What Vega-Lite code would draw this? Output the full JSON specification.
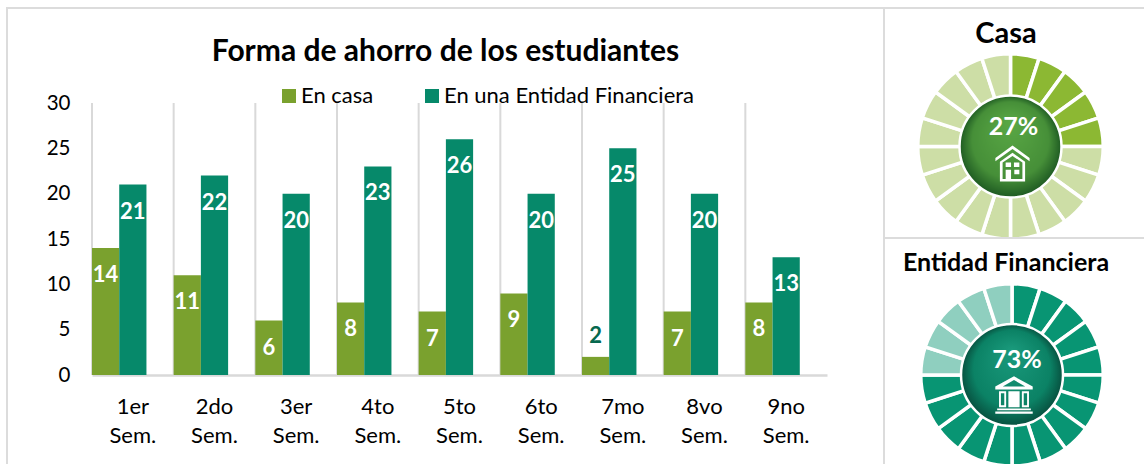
{"$schema":"https://vega.github.io/schema/vega-lite/v6.json","padding":{"left":6,"top":7,"right":0,"bottom":0},"background":"white","spacing":0,"bounds":"flush","resolve":{"scale":{"color":"independent"},"legend":{"color":"independent"}},"config":{"concat":{"spacing":0},"font":"Lato","view":{"stroke":"#dcdcdc","strokeWidth":2}},"datasets":{"ahorro":[{"sem":"1er Sem.","serie":"En casa","v":14},{"sem":"2do Sem.","serie":"En casa","v":11},{"sem":"3er Sem.","serie":"En casa","v":6},{"sem":"4to Sem.","serie":"En casa","v":8},{"sem":"5to Sem.","serie":"En casa","v":7},{"sem":"6to Sem.","serie":"En casa","v":9},{"sem":"7mo Sem.","serie":"En casa","v":2},{"sem":"8vo Sem.","serie":"En casa","v":7},{"sem":"9no Sem.","serie":"En casa","v":8},{"sem":"1er Sem.","serie":"En una Entidad Financiera","v":21},{"sem":"2do Sem.","serie":"En una Entidad Financiera","v":22},{"sem":"3er Sem.","serie":"En una Entidad Financiera","v":20},{"sem":"4to Sem.","serie":"En una Entidad Financiera","v":23},{"sem":"5to Sem.","serie":"En una Entidad Financiera","v":26},{"sem":"6to Sem.","serie":"En una Entidad Financiera","v":20},{"sem":"7mo Sem.","serie":"En una Entidad Financiera","v":25},{"sem":"8vo Sem.","serie":"En una Entidad Financiera","v":20},{"sem":"9no Sem.","serie":"En una Entidad Financiera","v":13}],"casa":[{"seg":1,"parte":"Ahorro","v":1},{"seg":2,"parte":"Ahorro","v":1},{"seg":3,"parte":"Ahorro","v":1},{"seg":4,"parte":"Ahorro","v":1},{"seg":5,"parte":"Ahorro","v":1},{"seg":6,"parte":"Resto","v":1},{"seg":7,"parte":"Resto","v":1},{"seg":8,"parte":"Resto","v":1},{"seg":9,"parte":"Resto","v":1},{"seg":10,"parte":"Resto","v":1},{"seg":11,"parte":"Resto","v":1},{"seg":12,"parte":"Resto","v":1},{"seg":13,"parte":"Resto","v":1},{"seg":14,"parte":"Resto","v":1},{"seg":15,"parte":"Resto","v":1},{"seg":16,"parte":"Resto","v":1},{"seg":17,"parte":"Resto","v":1},{"seg":18,"parte":"Resto","v":1},{"seg":19,"parte":"Resto","v":1},{"seg":20,"parte":"Resto","v":1}],"entidad":[{"seg":1,"parte":"Ahorro","v":1},{"seg":2,"parte":"Ahorro","v":1},{"seg":3,"parte":"Ahorro","v":1},{"seg":4,"parte":"Ahorro","v":1},{"seg":5,"parte":"Ahorro","v":1},{"seg":6,"parte":"Ahorro","v":1},{"seg":7,"parte":"Ahorro","v":1},{"seg":8,"parte":"Ahorro","v":1},{"seg":9,"parte":"Ahorro","v":1},{"seg":10,"parte":"Ahorro","v":1},{"seg":11,"parte":"Ahorro","v":1},{"seg":12,"parte":"Ahorro","v":1},{"seg":13,"parte":"Ahorro","v":1},{"seg":14,"parte":"Ahorro","v":1},{"seg":15,"parte":"Ahorro","v":1},{"seg":16,"parte":"Resto","v":1},{"seg":17,"parte":"Resto","v":1},{"seg":18,"parte":"Resto","v":1},{"seg":19,"parte":"Resto","v":1},{"seg":20,"parte":"Resto","v":1}],"pctCasa":[{"pct":"27%"}],"pctEntidad":[{"pct":"73%"}]},"hconcat":[{"width":877,"height":458,"title":{"text":"Forma de ahorro de los estudiantes","fontSize":30,"fontWeight":"bold","font":"Lato","color":"#000000","anchor":"middle","offset":-59},"data":{"name":"ahorro"},"layer":[{"transform":[{"filter":"datum.serie === 'En casa'"}],"mark":{"type":"rule","color":"#d9d9d9","strokeWidth":2},"encoding":{"x":{"field":"sem","type":"nominal","bandPosition":0},"y":{"datum":0,"type":"quantitative"},"y2":{"datum":30}}},{"mark":{"type":"bar"},"encoding":{"x":{"field":"sem","type":"nominal","sort":null,"scale":{"range":[85,820],"paddingInner":0,"paddingOuter":0},"title":null,"axis":{"orient":"bottom","offset":-91,"labelAngle":0,"labelAlign":"center","labelExpr":"split(datum.label,' ')","labelFontSize":22,"labelColor":"#000000","labelLineHeight":29,"labelPadding":21,"labelBaseline":"top","ticks":false,"grid":false,"domain":true,"domainColor":"#d9d9d9","domainWidth":2.5,"labelFont":"Lato"}},"xOffset":{"field":"serie","type":"nominal","scale":{"domain":["En casa","En una Entidad Financiera","_"],"range":[0,81.67],"paddingInner":0,"paddingOuter":0}},"y":{"field":"v","type":"quantitative","stack":null,"scale":{"domain":[0,30],"range":[367,95]},"title":null,"axis":{"offset":-85,"values":[0,5,10,15,20,25,30],"ticks":false,"domain":false,"grid":false,"labelFontSize":20.5,"labelColor":"#000000","labelPadding":22,"labelFont":"Lato"}},"color":{"field":"serie","type":"nominal","scale":{"domain":["En casa","En una Entidad Financiera"],"range":["#7aa12e","#06896a"]},"legend":{"orient":"none","legendX":271,"legendY":77,"direction":"horizontal","title":null,"symbolType":"square","symbolSize":196,"symbolStrokeWidth":0,"labelFontSize":22,"labelColor":"#000000","labelFont":"Lato","labelLimit":400,"columnPadding":47,"labelOffset":1}}}},{"transform":[{"filter":"datum.v >= 3"}],"mark":{"type":"text","color":"#ffffff","fontWeight":"bold","fontSize":22,"dy":27,"font":"Lato"},"encoding":{"x":{"field":"sem","type":"nominal","sort":null},"xOffset":{"field":"serie","type":"nominal"},"y":{"field":"v","type":"quantitative","stack":null},"text":{"field":"v","type":"quantitative"}}},{"transform":[{"filter":"datum.v < 3"}],"mark":{"type":"text","color":"#06694f","fontWeight":"bold","fontSize":22,"dy":-21,"font":"Lato"},"encoding":{"x":{"field":"sem","type":"nominal","sort":null},"xOffset":{"field":"serie","type":"nominal"},"y":{"field":"v","type":"quantitative","stack":null},"text":{"field":"v","type":"quantitative"}}}]},{"spacing":0,"bounds":"flush","resolve":{"scale":{"color":"independent"},"legend":{"color":"independent"}},"vconcat":[{"width":262,"height":230,"title":{"text":"Casa","fontSize":29,"fontWeight":"bold","font":"Lato","color":"#000000","anchor":"middle","dx":-9,"offset":-41},"layer":[{"data":{"name":"casa"},"mark":{"type":"arc","radius":92.75,"radius2":48,"stroke":"#ffffff","strokeWidth":3.5},"encoding":{"x":{"datum":0,"type":"quantitative","scale":{"domain":[-126.5,135.5],"range":[0,262],"nice":false,"zero":false},"axis":null},"y":{"datum":0,"type":"quantitative","scale":{"domain":[-138.5,91.5],"range":[0,230],"nice":false,"zero":false},"axis":null},"theta":{"field":"v","type":"quantitative","scale":{"domain":[0,20]}},"order":{"field":"seg","type":"quantitative"},"color":{"field":"parte","type":"nominal","scale":{"domain":["Ahorro","Resto"],"range":["#8cb833","#cddea6"]},"legend":null}}},{"data":{"name":"pctCasa"},"mark":{"type":"point","shape":"circle","size":10404,"filled":true,"opacity":1,"stroke":"#ffffff","strokeWidth":2.5,"fill":{"gradient":"radial","x1":0.5,"y1":0.25,"r1":0,"x2":0.5,"y2":0.5,"r2":0.5,"stops":[{"offset":0,"color":"#5aa845"},{"offset":0.75,"color":"#468f38"},{"offset":1,"color":"#1e5a22"}]}},"encoding":{"x":{"datum":0,"type":"quantitative"},"y":{"datum":0,"type":"quantitative"}}},{"data":{"name":"pctCasa"},"mark":{"type":"text","color":"#ffffff","fontWeight":"bold","fontSize":25,"font":"Lato"},"encoding":{"x":{"datum":3,"type":"quantitative"},"y":{"datum":-20,"type":"quantitative"},"text":{"field":"pct"}}},{"data":{"name":"pctCasa"},"mark":{"type":"point","filled":true,"opacity":1,"fill":"#ffffff","strokeWidth":0,"size":1296,"shape":"M0,-1L0.95,-0.3L0.95,-0.12L0,-0.8L-0.95,-0.12L-0.95,-0.3ZM-0.7,-0.1L0,-0.6L0.7,-0.1L0.7,1L-0.7,1ZM-0.55,-0.05L-0.55,0.86L0.55,0.86L0.55,-0.05L0,-0.42ZM-0.38,-0.05L-0.08,-0.05L-0.08,0.2L-0.38,0.2ZM0.08,-0.05L0.38,-0.05L0.38,0.2L0.08,0.2ZM-0.38,0.35L-0.08,0.35L-0.08,0.86L-0.38,0.86ZM0.1,0.35L0.38,0.35L0.38,0.6L0.1,0.6Z"},"encoding":{"x":{"datum":2,"type":"quantitative"},"y":{"datum":17,"type":"quantitative"}}}]},{"width":262,"height":228,"title":{"text":"Entidad Financiera","fontSize":25,"fontWeight":"bold","font":"Lato","color":"#000000","anchor":"middle","dx":-9,"offset":-38},"layer":[{"data":{"name":"entidad"},"mark":{"type":"arc","radius":91.25,"radius2":48,"stroke":"#ffffff","strokeWidth":3.5},"encoding":{"x":{"datum":0,"type":"quantitative","scale":{"domain":[-128,134],"range":[0,262],"nice":false,"zero":false},"axis":null},"y":{"datum":0,"type":"quantitative","scale":{"domain":[-137,91],"range":[0,228],"nice":false,"zero":false},"axis":null},"theta":{"field":"v","type":"quantitative","scale":{"domain":[0,20]}},"order":{"field":"seg","type":"quantitative"},"color":{"field":"parte","type":"nominal","scale":{"domain":["Ahorro","Resto"],"range":["#089573","#8fcfbf"]},"legend":null}}},{"data":{"name":"pctEntidad"},"mark":{"type":"point","shape":"circle","size":10404,"filled":true,"opacity":1,"stroke":"#ffffff","strokeWidth":2.5,"fill":{"gradient":"radial","x1":0.5,"y1":0.25,"r1":0,"x2":0.5,"y2":0.5,"r2":0.5,"stops":[{"offset":0,"color":"#1a9a7c"},{"offset":0.75,"color":"#0b8265"},{"offset":1,"color":"#07503f"}]}},"encoding":{"x":{"datum":0,"type":"quantitative"},"y":{"datum":0,"type":"quantitative"}}},{"data":{"name":"pctEntidad"},"mark":{"type":"text","color":"#ffffff","fontWeight":"bold","fontSize":25,"font":"Lato"},"encoding":{"x":{"datum":5,"type":"quantitative"},"y":{"datum":-15,"type":"quantitative"},"text":{"field":"pct"}}},{"data":{"name":"pctEntidad"},"mark":{"type":"point","filled":true,"opacity":1,"fill":"#ffffff","strokeWidth":0,"size":1400,"shape":"M0,-1L1,-0.45L1,-0.3L-1,-0.3L-1,-0.45ZM0,-0.8L-0.6,-0.45L0.6,-0.45ZM-0.8,-0.2L-0.42,-0.2L-0.42,0.65L-0.8,0.65ZM-0.7,-0.1L-0.7,0.55L-0.52,0.55L-0.52,-0.1ZM-0.3,-0.2L0.3,-0.2L0.3,0.65L-0.3,0.65ZM0.42,-0.2L0.8,-0.2L0.8,0.65L0.42,0.65ZM0.52,-0.1L0.52,0.55L0.7,0.55L0.7,-0.1ZM-0.9,0.72L0.9,0.72L0.9,0.82L-0.9,0.82ZM-1,0.88L1,0.88L1,1L-1,1Z"},"encoding":{"x":{"datum":2,"type":"quantitative"},"y":{"datum":20,"type":"quantitative"}}}]}]}]}
